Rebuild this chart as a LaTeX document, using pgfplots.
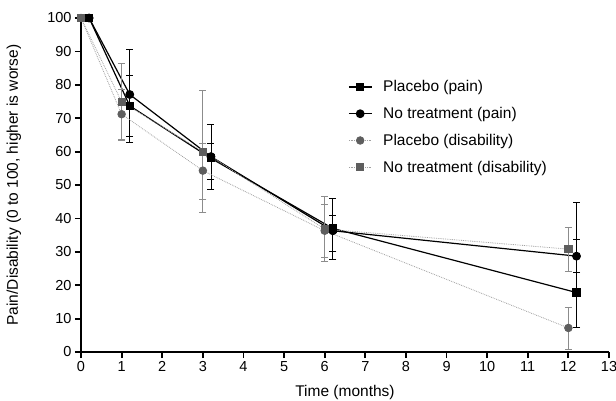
\documentclass[border=0pt]{standalone}
\usepackage{fontspec}
\setmainfont{Liberation Sans}
\usepackage{pgfplots}
\pgfplotsset{compat=1.18}
\usetikzlibrary{calc}
\definecolor{gmark}{HTML}{5E5E5E}
\definecolor{gline}{HTML}{A0A0A0}
\definecolor{gbar}{HTML}{8C8C8C}
\begin{document}
\begin{tikzpicture}
\begin{axis}[
  name=ax,
  at={(0,0)}, anchor=south west,
  scale only axis, width=528pt, height=334pt,
  xmin=0, xmax=13, ymin=0, ymax=100,
  xtick={0,1,...,13}, ytick={0,10,...,100},
  axis x line*=bottom, axis y line*=left,
  axis line style={line width=2.2pt, black},
  tick align=outside, major tick length=6pt,
  tick style={line width=1.8pt, black},
  /pgf/number format/assume math mode=true,
  ticklabel style={font=\fontsize{14.5}{16}\selectfont},
  label style={font=\fontsize{15.5}{18}\selectfont},
  xlabel={Time (months)},
  ylabel={Pain/Disability (0 to 100, higher is worse)},
  xlabel style={at={(axis description cs:0.5,-0.12)}, anchor=center},
  ylabel style={at={(axis description cs:-0.127,0.5)}, anchor=center, rotate=0},
  clip=false,
  legend style={draw=none, fill=none, at={(rel axis cs:0.5,0.825)}, anchor=north west,
    font=\fontsize{15.5}{18}\selectfont, row sep=10pt, /tikz/every odd column/.append style={column sep=9pt}},
  legend cell align=left,
  legend image code/.code={\draw[mark repeat=2,mark phase=2,#1] plot coordinates {(0cm,0cm) (0.4cm,0cm) (0.8cm,0cm)};},
  error bars/error mark options={rotate=90, mark size=3.5pt},
]
% Placebo (pain)
\addplot[black, line width=1.2pt, mark=square*, mark size=3.6pt, mark options={solid, fill=black},
  error bars/.cd, y dir=both, y explicit, error bar style={black, line width=0.9pt}]
  coordinates {
  (0.2,100) += (0,0) -= (0,0)
  (1.2,73.7) += (0,9.2) -= (0,9.0)
  (3.2,58.0) += (0,4.5) -= (0,6.3)
  (6.2,37.0) += (0,4.0) -= (0,6.8)
  (12.2,17.8) += (0,16.0) -= (0,10.5)
  };
\addlegendentry{Placebo (pain)}
% No treatment (pain)
\addplot[black, line width=1.2pt, mark=*, mark size=3.8pt, mark options={solid, fill=black},
  error bars/.cd, y dir=both, y explicit, error bar style={black, line width=0.9pt}]
  coordinates {
  (0.2,100) += (0,0) -= (0,0)
  (1.2,77.1) += (0,13.7) -= (0,14.3)
  (3.2,58.5) += (0,9.7) -= (0,9.8)
  (6.2,36.3) += (0,9.7) -= (0,8.5)
  (12.2,28.7) += (0,16.2) -= (0,4.8)
  };
\addlegendentry{No treatment (pain)}
% Placebo (disability)
\addplot[gline, line width=0.8pt, densely dotted, mark=*, mark size=3.8pt, mark options={solid, draw=gmark, fill=gmark},
  error bars/.cd, y dir=both, y explicit, error bar style={gbar, line width=0.9pt, solid}]
  coordinates {
  (0,100) += (0,0) -= (0,0)
  (1,71.2) += (0,7.4) -= (0,7.5)
  (3,54.3) += (0,8.2) -= (0,8.6)
  (6,36.3) += (0,8.0) -= (0,8.0)
  (12,7.2) += (0,6.3) -= (0,6.3)
  };
\addlegendentry{Placebo (disability)}
% No treatment (disability)
\addplot[gline, line width=0.8pt, densely dotted, mark=square*, mark size=3.6pt, mark options={solid, draw=gmark, fill=gmark},
  error bars/.cd, y dir=both, y explicit, error bar style={gbar, line width=0.9pt, solid}]
  coordinates {
  (0,100) += (0,0) -= (0,0)
  (1,74.9) += (0,11.5) -= (0,11.5)
  (3,60.0) += (0,18.4) -= (0,18.2)
  (6,36.8) += (0,9.7) -= (0,9.6)
  (12,30.8) += (0,6.5) -= (0,6.5)
  };
\addlegendentry{No treatment (disability)}
\end{axis}
\pgfresetboundingbox
\path[use as bounding box] ($(ax.south west)+(-81pt,-48pt)$) rectangle ($(ax.south west)+(535pt,352pt)$);
\end{tikzpicture}
\end{document}
